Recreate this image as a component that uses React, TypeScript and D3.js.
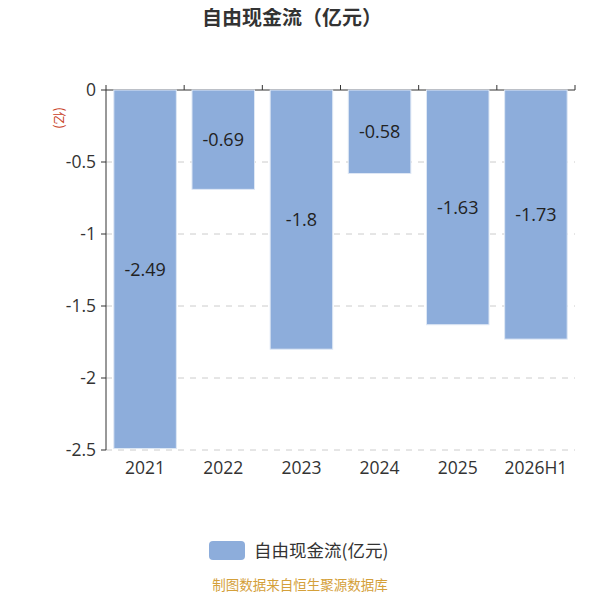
import React from 'react';
import * as d3 from 'd3';

const years = ['2021', '2022', '2023', '2024', '2025', '2026H1'];
const values = [-2.49, -0.69, -1.8, -0.58, -1.63, -1.73];
const yTicks = [0, -0.5, -1, -1.5, -2, -2.5];

const font = '"Noto Sans CJK SC", "Noto Sans", sans-serif';
const numFont = '"Open Sans", "Noto Sans CJK SC", sans-serif';
const barColor = '#8daddb';

export default function App() {
  const width = 600;
  const height = 600;
  const margin = { top: 90, right: 25, bottom: 150, left: 106 };
  const iw = width - margin.left - margin.right;
  const ih = height - margin.top - margin.bottom;

  const x = d3.scaleBand().domain(years).range([0, iw]).paddingInner(0.2).paddingOuter(0.1);
  const y = d3.scaleLinear().domain([-2.5, 0]).range([ih, 0]);
  const step = x.step();
  const x0 = x(years[0])! - x.paddingOuter() * step;

  return (
    <div style={{ margin: -8 }}>
      <svg width={width} height={height} style={{ display: 'block', fontFamily: font }}>
        <text x={292} y={25} textAnchor="middle" fontSize={20} fontWeight="bold" fill="#333">自由现金流（亿元）</text>
        <text transform="translate(60,118) rotate(90)" textAnchor="middle" dominantBaseline="central" fontSize={13} fill="#c8401e">(亿)</text>
        <g transform={`translate(${margin.left},${margin.top})`} fontFamily={numFont}>
          {yTicks.filter(t => t !== 0).map(t => (
            <line key={t} x1={0} x2={iw} y1={y(t)} y2={y(t)} stroke="#ccc" strokeDasharray="6,6" />
          ))}
          <line x1={0} x2={iw} y1={y(0)} y2={y(0)} stroke="#333" />
          {d3.range(years.length + 1).map(i => (
            <line key={i} x1={x0 + i * step} x2={x0 + i * step} y1={y(0)} y2={y(0) - 5} stroke="#333" />
          ))}
          {years.map((c, i) => (
            <g key={c}>
              <rect x={x(c)} y={y(0)} width={x.bandwidth()} height={y(values[i]) - y(0)} fill={barColor} stroke="#dfe8f5" strokeWidth={1} />
              <text x={x(c)! + x.bandwidth() / 2} y={(y(0) + y(values[i])) / 2 + 6.5} textAnchor="middle" fontSize={18} fill="#222">{values[i]}</text>
              <text x={x(c)! + x.bandwidth() / 2} y={ih + 24} textAnchor="middle" fontSize={17.5} fill="#333">{c}</text>
            </g>
          ))}
          <line x1={0} x2={0} y1={0} y2={ih} stroke="#333" />
          {yTicks.map(t => (
            <g key={t}>
              <line x1={-5} x2={0} y1={y(t)} y2={y(t)} stroke="#333" />
              <text x={-10} y={y(t) + 6} textAnchor="end" fontSize={17.5} fill="#333">{t}</text>
            </g>
          ))}
        </g>
        <rect x={209} y={541} width={36} height={19} rx={4} fill={barColor} />
        <text x={254} y={557} fontSize={17.5} fill="#333">自由现金流(亿元)</text>
        <text x={300} y={590} textAnchor="middle" fontSize={13.5} fill="#d4a03a">制图数据来自恒生聚源数据库</text>
      </svg>
    </div>
  );
}
